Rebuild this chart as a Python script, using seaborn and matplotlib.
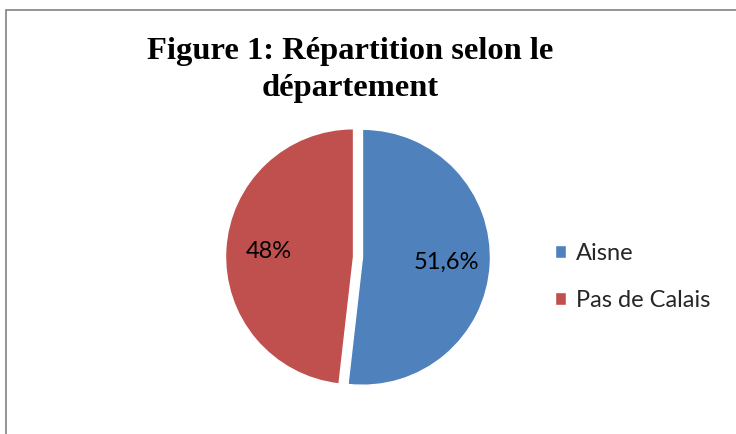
import matplotlib
matplotlib.use("Agg")
import matplotlib.pyplot as plt
import seaborn as sns
from matplotlib.patches import Rectangle

# Data
categories = ["Aisne", "Pas de Calais"]
values = [51.6, 48.0]
value_labels = ["51,6%", "48%"]
title_text = "Figure 1: Répartition selon le\ndépartement"
colors = ["#4F81BD", "#C0504D"]

sns.set_theme(style="white")
plt.rcParams["font.family"] = ["Lato", "DejaVu Sans"]

W, H = 736, 434
fig = plt.figure(figsize=(W / 100, H / 100), dpi=100)
fig.patch.set_facecolor("white")

# Pie axes: center (358, 257) px, radius 128 px
cx, cy, r = 358, 257, 128
lim = 1.15
aw = 2 * lim * r / W
ah = 2 * lim * r / H
ax = fig.add_axes([cx / W - aw / 2, 1 - cy / H - ah / 2, aw, ah])

lab_iter = iter(value_labels)
wedges, texts, autotexts = ax.pie(
    values,
    colors=colors,
    startangle=90,
    counterclock=False,
    explode=[0.035, 0.035],
    autopct=lambda p: next(lab_iter),
    pctdistance=0.66,
    textprops=dict(fontsize=17, color="black"),
    radius=1.0,
)
ax.set_xlim(-lim, lim)
ax.set_ylim(-lim, lim)
ax.set_aspect("equal")
ax.axis("off")

# Title
fig.text(350 / W, 1 - 70 / H, title_text, ha="center", va="center",
         family=["Liberation Serif"], fontweight="bold", fontsize=23.4,
         linespacing=1.4, color="black")

# Legend
leg = fig.legend(wedges, categories, loc="center left",
                 bbox_to_anchor=(555 / W, 1 - 277 / H),
                 frameon=False, fontsize=17, handlelength=0.45, handleheight=0.45,
                 handletextpad=0.45, labelspacing=1.1, borderpad=0, borderaxespad=0)

# Chart frame (only top/left visible)
fig.patches.append(Rectangle((5.5 / W, -0.2), 1.3, 1 - 10.5 / H + 0.2,
                             transform=fig.transFigure, fill=False,
                             edgecolor="#8c8c8c", linewidth=1.3))

fig.savefig("out.png", dpi=100, facecolor="white")
